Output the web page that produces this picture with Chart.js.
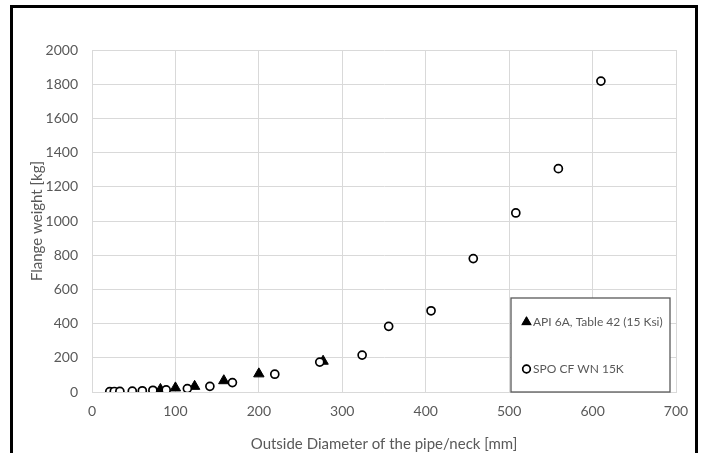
<!DOCTYPE html>
<html>
<head>
<meta charset="utf-8">
<script src="https://cdn.jsdelivr.net/npm/chart.js@4.4.1/dist/chart.umd.min.js"></script>
<style>
  body { margin: 0; background: #fff; }
  #wrap { position: relative; width: 702px; height: 453px; overflow: hidden; }
  #frame { position: absolute; left: 10px; top: 5px; width: 688px; height: 470px; border: 3px solid #000; box-sizing: border-box; pointer-events: none; }
  canvas { position: absolute; left: 0; top: 0; }
</style>
</head>
<body>
<div id="wrap">
  <canvas id="flangeChart" width="702" height="453"></canvas>
  <div id="frame"></div>
</div>
<script>
// data
const seriesNames = ['API 6A, Table 42 (15 Ksi)', 'SPO CF WN 15K'];
const apiDiameter = [82, 100, 123, 158, 200, 277];
const apiWeight = [15, 24, 33, 66, 106, 180];
const spoDiameter = [21.3, 26.7, 33.4, 48.3, 60.3, 73, 88.9, 114.3, 141.3, 168.3, 219.1, 273, 323.8, 355.6, 406.4, 457, 508, 559, 610];
const spoWeight = [2, 3, 4, 5, 7, 10, 12, 20, 33, 55, 104, 175, 216, 384, 475, 780, 1047, 1306, 1818];
const xTicks = [0, 100, 200, 300, 400, 500, 600, 700];
const yTicks = [0, 200, 400, 600, 800, 1000, 1200, 1400, 1600, 1800, 2000];

const textGray = '#595959';
const gridGray = '#d9d9d9';
const fontFamily = 'Lato, "Open Sans", sans-serif';

function toPoints(xs, ys) {
  return xs.map((x, i) => ({ x: x, y: ys[i] }));
}

// legend drawn inside the plot, like the excel box
const boxLegend = {
  id: 'boxLegend',
  afterDraw(chart) {
    const ctx = chart.ctx;
    const left = 511, top = 298, right = 670, bottom = 392;
    ctx.save();
    ctx.fillStyle = '#fff';
    ctx.fillRect(left, top, right - left, bottom - top);
    ctx.strokeStyle = '#595959';
    ctx.lineWidth = 1.3;
    ctx.strokeRect(left, top, right - left, bottom - top);

    const rows = [322, 369];
    ctx.font = '12px ' + fontFamily;
    ctx.textBaseline = 'middle';
    chart.data.datasets.forEach((ds, i) => {
      const y = rows[i];
      Chart.helpers.drawPoint(ctx, {
        pointStyle: ds.pointStyle,
        radius: ds.pointStyle === 'triangle' ? 5 : 3.8,
        borderWidth: ds.borderWidth,
        rotation: 0
      }, 526.5, y);
      ctx.fillStyle = ds.pointBackgroundColor;
      ctx.strokeStyle = ds.pointBorderColor;
      ctx.lineWidth = ds.borderWidth;
      ctx.fill();
      ctx.stroke();
      ctx.fillStyle = textGray;
      ctx.fillText(ds.label, 533, y + 0.5);
    });
    ctx.restore();
  }
};

function createChart() {
  const ctx = document.getElementById('flangeChart').getContext('2d');
  return new Chart(ctx, {
    type: 'scatter',
    data: {
      datasets: [
        {
          label: seriesNames[0],
          data: toPoints(apiDiameter, apiWeight),
          pointStyle: 'triangle',
          pointRadius: 6,
          pointBackgroundColor: '#000',
          pointBorderColor: '#000',
          borderWidth: 1,
          order: 1
        },
        {
          label: seriesNames[1],
          data: toPoints(spoDiameter, spoWeight),
          pointStyle: 'circle',
          pointRadius: 4,
          pointBackgroundColor: '#fff',
          pointBorderColor: '#000',
          borderWidth: 1.7,
          order: 0
        }
      ]
    },
    options: {
      responsive: false,
      animation: false,
      devicePixelRatio: 1,
      layout: { padding: { left: 0, top: 50, right: 26, bottom: 0 } },
      plugins: { legend: { display: false }, tooltip: { enabled: false } },
      scales: {
        x: {
          type: 'linear',
          min: xTicks[0],
          max: xTicks[xTicks.length - 1],
          afterBuildTicks: s => { s.ticks = xTicks.map(v => ({ value: v })); },
          afterFit: s => { s.height = 61; },
          ticks: { color: textGray, font: { family: fontFamily, size: 14 }, padding: 11, callback: v => String(v) },
          grid: { color: gridGray, drawTicks: false },
          border: { color: gridGray },
          title: {
            display: true,
            text: 'Outside Diameter of the pipe/neck [mm]',
            color: textGray,
            font: { family: fontFamily, size: 15 },
            padding: { top: 0, bottom: 0 }
          }
        },
        y: {
          type: 'linear',
          min: yTicks[0],
          max: yTicks[yTicks.length - 1],
          afterBuildTicks: s => { s.ticks = yTicks.map(v => ({ value: v })); },
          afterFit: s => { s.width = 92; },
          ticks: { color: textGray, font: { family: fontFamily, size: 14 }, padding: 14, callback: v => String(v) },
          grid: { color: gridGray, drawTicks: false },
          border: { color: gridGray },
          title: {
            display: true,
            text: 'Flange weight [kg]',
            color: textGray,
            font: { family: fontFamily, size: 15 },
            padding: { top: 28, bottom: 0 }
          }
        }
      }
    },
    plugins: [boxLegend]
  });
}

createChart();
</script>
</body>
</html>
